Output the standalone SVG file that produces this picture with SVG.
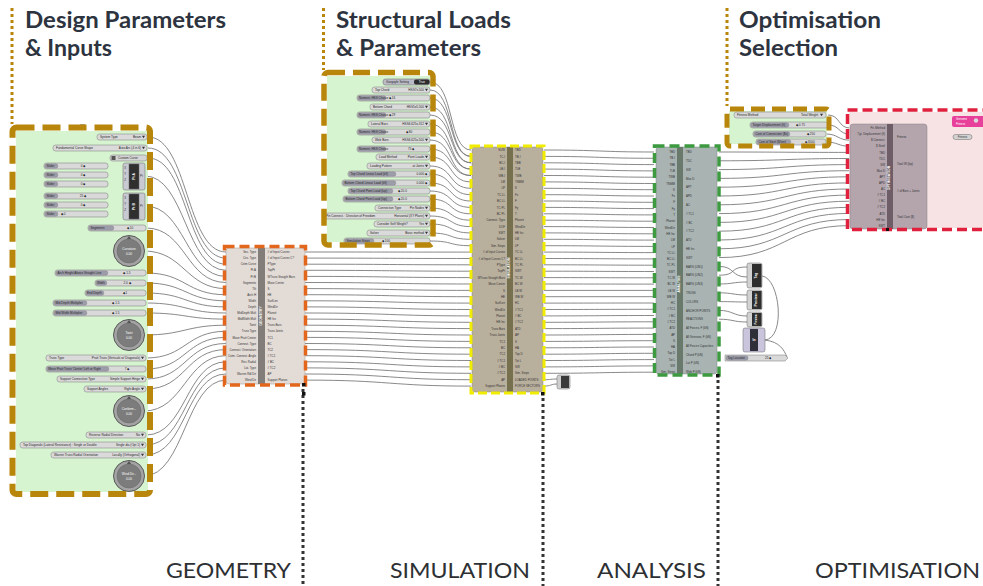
<svg xmlns="http://www.w3.org/2000/svg" width="983" height="586" viewBox="0 0 983 586">
<defs>
<style>
.h{font-family:Lato,"Open Sans",sans-serif;font-weight:700;font-size:22px;fill:#2d3440}
.f{font-family:Lato,"Open Sans",sans-serif;font-size:21px;fill:#2d3033}
.t{font-family:"Liberation Sans",Arial,sans-serif;font-size:3.1px;fill:#262626}
.c{font-family:"Liberation Sans",Arial,sans-serif;font-size:2.9px;fill:#333}
.e{text-anchor:end}
.m{text-anchor:middle}
.w{fill:#fff}
.nm{font-family:"Liberation Sans",Arial,sans-serif;font-size:3.4px;font-weight:700;fill:#fff;text-anchor:middle}
.gd{stroke:#b8860b;stroke-width:3;stroke-dasharray:3 3;fill:none}
.kd{stroke:#333;stroke-width:3;stroke-dasharray:3 3;fill:none}
.wires path{fill:none;stroke:#7c7c7c;stroke-width:0.9}
.dd rect{fill:#dadada;stroke:#7a7a7a;stroke-width:0.5}
.dd path{fill:#333}
.sl rect{fill:#d9d9d9;stroke:#777;stroke-width:0.5}
.sl rect.lab{fill:#9d9daa;stroke:#6d6d78;stroke-width:0.3}
.kb{fill:#a3a3a3;stroke:#595959;stroke-width:1}
.ki{fill:#7c7c7c;stroke:#666;stroke-width:0.5}
.kp{fill:#555}
.pt rect{stroke:#666;stroke-width:0.5}
</style>
</defs>
<rect width="983" height="586" fill="#fff"/>

<!-- section headings -->
<g id="headings">
<text class="h" x="25" y="28" textLength="201" lengthAdjust="spacingAndGlyphs">Design Parameters</text>
<text class="h" x="25" y="56" textLength="87" lengthAdjust="spacingAndGlyphs">&amp; Inputs</text>
<text class="h" x="336" y="28" textLength="175" lengthAdjust="spacingAndGlyphs">Structural Loads</text>
<text class="h" x="336" y="56" textLength="145" lengthAdjust="spacingAndGlyphs">&amp; Parameters</text>
<text class="h" x="739" y="28" textLength="142" lengthAdjust="spacingAndGlyphs">Optimisation</text>
<text class="h" x="739" y="56" textLength="99" lengthAdjust="spacingAndGlyphs">Selection</text>
<text class="f" x="166" y="578" textLength="125" lengthAdjust="spacingAndGlyphs">GEOMETRY</text>
<text class="f" x="390" y="578" textLength="140" lengthAdjust="spacingAndGlyphs">SIMULATION</text>
<text class="f" x="597" y="578" textLength="109" lengthAdjust="spacingAndGlyphs">ANALYSIS</text>
<text class="f" x="815" y="578" textLength="165" lengthAdjust="spacingAndGlyphs">OPTIMISATION</text>
</g>

<!-- dotted section dividers -->
<g id="dividers">
<path class="gd" d="M12 8V124M323.5 8V70M727 8V106"/>
<path class="kd" d="M303 389V586M543 398V586M718 380V586"/>
</g>

<!-- connectors -->
<g id="connectors" class="wires">
<path d="M148 137C188 137 186 252 226 252"/>
<path d="M148 148C188 148 186 258.1 226 258.1"/>
<path d="M148 158C188 158 186 264.2 226 264.2"/>
<path d="M145 176C185 176 186 270.3 226 270.3"/>
<path d="M145 206C185 206 186 276.4 226 276.4"/>
<path d="M146 228C186 228 186 282.5 226 282.5"/>
<path d="M144 251C184 251 186 288.6 226 288.6"/>
<path d="M146 273C186 273 186 294.7 226 294.7"/>
<path d="M146 283C186 283 186 300.8 226 300.8"/>
<path d="M146 293C186 293 186 306.9 226 306.9"/>
<path d="M146 303C186 303 186 313 226 313"/>
<path d="M146 313C186 313 186 319.1 226 319.1"/>
<path d="M144 335C184 335 186 325.2 226 325.2"/>
<path d="M146 358C186 358 186 331.3 226 331.3"/>
<path d="M146 369C186 369 186 337.4 226 337.4"/>
<path d="M146 379C186 379 186 343.5 226 343.5"/>
<path d="M146 389C186 389 186 349.6 226 349.6"/>
<path d="M144 411C184 411 186 355.7 226 355.7"/>
<path d="M146 435C186 435 186 361.8 226 361.8"/>
<path d="M146 445C186 445 186 367.9 226 367.9"/>
<path d="M146 455C186 455 186 374 226 374"/>
<path d="M144 476C184 476 186 380.1 226 380.1"/>
<path d="M108 166C116 166 116 168 124 168M108 175C116 175 116 174 124 174M108 184C116 184 116 180 124 180"/>
<path d="M108 196C116 196 116 198 124 198M108 205C116 205 116 204 124 204M108 214C116 214 116 210 124 210"/>
<path d="M305 252C390 252 390 252.1 471 252.1"/>
<path d="M305 258.1C390 258.1 390 258.5 471 258.5"/>
<path d="M305 264.2C390 264.2 390 264.8 471 264.8"/>
<path d="M305 270.3C390 270.3 390 271.2 471 271.2"/>
<path d="M305 276.4C390 276.4 390 277.6 471 277.6"/>
<path d="M305 282.5C390 282.5 390 284 471 284"/>
<path d="M305 288.6C390 288.6 390 290.4 471 290.4"/>
<path d="M305 294.7C390 294.7 390 296.7 471 296.7"/>
<path d="M305 300.8C390 300.8 390 303.1 471 303.1"/>
<path d="M305 306.9C390 306.9 390 309.5 471 309.5"/>
<path d="M305 313C390 313 390 315.9 471 315.9"/>
<path d="M305 319.1C390 319.1 390 322.3 471 322.3"/>
<path d="M305 325.2C390 325.2 390 328.6 471 328.6"/>
<path d="M305 331.3C390 331.3 390 335 471 335"/>
<path d="M305 337.4C390 337.4 390 341.4 471 341.4"/>
<path d="M305 343.5C390 343.5 390 347.8 471 347.8"/>
<path d="M305 349.6C390 349.6 390 354.2 471 354.2"/>
<path d="M305 355.7C390 355.7 390 360.5 471 360.5"/>
<path d="M305 361.8C390 361.8 390 366.9 471 366.9"/>
<path d="M305 367.9C390 367.9 390 373.3 471 373.3"/>
<path d="M305 374C390 374 390 379.7 471 379.7"/>
<path d="M305 380.1C390 380.1 390 386.1 471 386.1"/>
<path d="M430 82C454 82 448 150 471 150"/>
<path d="M430 90C454 90 448 156.4 471 156.4"/>
<path d="M430 98C454 98 448 156.4 471 156.4"/>
<path d="M430 107C454 107 448 162.8 471 162.8"/>
<path d="M430 115C454 115 448 162.8 471 162.8"/>
<path d="M430 124C454 124 448 169.1 471 169.1"/>
<path d="M430 132C454 132 448 169.1 471 169.1"/>
<path d="M430 140C454 140 448 175.5 471 175.5"/>
<path d="M430 149C454 149 448 175.5 471 175.5"/>
<path d="M430 157C454 157 448 181.9 471 181.9"/>
<path d="M430 166C454 166 448 188.3 471 188.3"/>
<path d="M430 174C454 174 448 194.7 471 194.7"/>
<path d="M430 183C454 183 448 201 471 201"/>
<path d="M430 191C454 191 448 207.4 471 207.4"/>
<path d="M430 199C454 199 448 213.8 471 213.8"/>
<path d="M430 208C454 208 448 220.2 471 220.2"/>
<path d="M430 216C454 216 448 226.6 471 226.6"/>
<path d="M430 224C454 224 448 232.9 471 232.9"/>
<path d="M430 233C454 233 448 239.3 471 239.3"/>
<path d="M430 241C454 241 448 245.7 471 245.7"/>
<path d="M544 150C600 150 600 152 654 152"/>
<path d="M544 156.4C600 156.4 600 158.3 654 158.3"/>
<path d="M544 162.8C600 162.8 600 164.6 654 164.6"/>
<path d="M544 169.1C600 169.1 600 170.9 654 170.9"/>
<path d="M544 175.5C600 175.5 600 177.2 654 177.2"/>
<path d="M544 181.9C600 181.9 600 183.5 654 183.5"/>
<path d="M544 188.3C600 188.3 600 189.7 654 189.7"/>
<path d="M544 194.7C600 194.7 600 196 654 196"/>
<path d="M544 201C600 201 600 202.3 654 202.3"/>
<path d="M544 207.4C600 207.4 600 208.6 654 208.6"/>
<path d="M544 213.8C600 213.8 600 214.9 654 214.9"/>
<path d="M544 220.2C600 220.2 600 221.2 654 221.2"/>
<path d="M544 226.6C600 226.6 600 227.5 654 227.5"/>
<path d="M544 232.9C600 232.9 600 233.8 654 233.8"/>
<path d="M544 239.3C600 239.3 600 240.1 654 240.1"/>
<path d="M544 245.7C600 245.7 600 246.4 654 246.4"/>
<path d="M544 252.1C600 252.1 600 252.6 654 252.6"/>
<path d="M544 258.5C600 258.5 600 258.9 654 258.9"/>
<path d="M544 264.8C600 264.8 600 265.2 654 265.2"/>
<path d="M544 271.2C600 271.2 600 271.5 654 271.5"/>
<path d="M544 277.6C600 277.6 600 277.8 654 277.8"/>
<path d="M544 284C600 284 600 284.1 654 284.1"/>
<path d="M544 290.4H654"/>
<path d="M544 296.7H654"/>
<path d="M544 303.1C600 303.1 600 303 654 303"/>
<path d="M544 309.5C600 309.5 600 309.3 654 309.3"/>
<path d="M544 315.9C600 315.9 600 315.5 654 315.5"/>
<path d="M544 322.3C600 322.3 600 321.8 654 321.8"/>
<path d="M544 328.6C600 328.6 600 328.1 654 328.1"/>
<path d="M544 335C600 335 600 334.4 654 334.4"/>
<path d="M544 341.4C600 341.4 600 340.7 654 340.7"/>
<path d="M544 347.8C600 347.8 600 347 654 347"/>
<path d="M544 354.2C600 354.2 600 353.3 654 353.3"/>
<path d="M544 360.5C600 360.5 600 359.6 654 359.6"/>
<path d="M544 366.9C600 366.9 600 365.9 654 365.9"/>
<path d="M544 373.3C600 373.3 600 372.2 654 372.2"/>
<path d="M544 379.7C551 379.7 551 379 557 379M544 386.1C551 386.1 551 384 557 384"/>
<path d="M719 152C785 152 785 152.4 850 152.4"/>
<path d="M719 160.8C785 160.8 785 158.5 850 158.5"/>
<path d="M719 169.6C785 169.6 785 164.6 850 164.6"/>
<path d="M719 178.4C785 178.4 785 170.7 850 170.7"/>
<path d="M719 187.2C785 187.2 785 176.8 850 176.8"/>
<path d="M719 196C785 196 785 182.9 850 182.9"/>
<path d="M719 204.8C785 204.8 785 189 850 189"/>
<path d="M719 213.6C785 213.6 785 195.1 850 195.1"/>
<path d="M719 222.4C785 222.4 785 201.2 850 201.2"/>
<path d="M719 231.2C785 231.2 785 207.3 850 207.3"/>
<path d="M719 240C785 240 785 213.4 850 213.4"/>
<path d="M719 248.8C785 248.8 785 219.5 850 219.5"/>
<path d="M719 257.6C785 257.6 785 225.6 850 225.6"/>
<path d="M828 115C840 115 838 128 850 128"/>
<path d="M828 125C840 125 838 134.1 850 134.1"/>
<path d="M826 134C838 134 838 140.2 850 140.2"/>
<path d="M826 142C838 142 838 146.3 850 146.3"/>
<path d="M927 137H953"/>
<path d="M954 124.5C950 128 958 131 961 134.5"/>
<path d="M719 266.4C735 266.4 731 277 747 277"/>
<path d="M719 275.2C738 275.2 728 267 747 267"/>
<path d="M719 284C733 284 733 282 747 282"/>
<path d="M719 292.8C733 292.8 733 295 747 295"/>
<path d="M719 301.6C733 301.6 733 302 747 302"/>
<path d="M719 310.4C733 310.4 733 316 747 316"/>
<path d="M719 319.2C733 319.2 733 322 747 322"/>
<path d="M762 276C780 278 786 338 765 340"/>
<path d="M765 340C780 342 784 350 787 357"/>
</g>

<!-- design parameters & inputs panel -->
<g id="design-parameters">
<rect x="16" y="131" width="132" height="361" fill="#d6f4cf"/>
<rect x="80" y="124" width="5" height="6" fill="#a8a8a8"/>
<g class="dd"><rect x="97" y="134" width="50" height="6" rx="2.5"/><text class="t" x="100" y="138.1">System Type</text><text class="t e" x="141" y="138.1">Beam</text><path d="M142 135.8h3l-1.5 2.4z"/></g>
<g class="dd"><rect x="53" y="145" width="94" height="6" rx="2.5"/><text class="t" x="56" y="149.1">Fundamental Curve Shape</text><text class="t e" x="141" y="149.1">Auto Arc (4 in 6)</text><path d="M142 146.8h3l-1.5 2.4z"/></g>
<g><rect x="110" y="155" width="37" height="6" rx="2.5" fill="#d5d5d5" stroke="#777" stroke-width="0.5"/><rect x="111.5" y="156" width="4" height="4" fill="#555"/><text class="t" x="118" y="159.1">Custom Curve</text></g>
<g class="sl"><rect x="44" y="163" width="64" height="6" rx="2.5"/><rect class="lab" x="44.8" y="163.7" width="13" height="4.6" rx="2"/><text class="t" x="46.5" y="167.1">Slider</text><text class="t m" x="83" y="167.1">0 ◆</text></g>
<g class="sl"><rect x="44" y="172" width="64" height="6" rx="2.5"/><rect class="lab" x="44.8" y="172.7" width="13" height="4.6" rx="2"/><text class="t" x="46.5" y="176.1">Slider</text><text class="t m" x="83" y="176.1">0 ◆</text></g>
<g class="sl"><rect x="44" y="181" width="64" height="6" rx="2.5"/><rect class="lab" x="44.8" y="181.7" width="13" height="4.6" rx="2"/><text class="t" x="46.5" y="185.1">Slider</text><text class="t m" x="83" y="185.1">0 ◆</text></g>
<g class="pt"><rect x="123" y="163" width="22" height="27" rx="2" fill="#c9c9d2"/><rect x="129" y="164" width="10" height="25" fill="#2f2f2f"/><text class="c" x="124.3" y="169">X</text><text class="c" x="124.3" y="175">Y</text><text class="c" x="124.3" y="181">Z</text><text class="c" x="140" y="177">Pt</text><text class="nm" transform="translate(135,176.5) rotate(-90)">Pt A</text></g>
<g class="sl"><rect x="44" y="193" width="64" height="6" rx="2.5"/><rect class="lab" x="44.8" y="193.7" width="13" height="4.6" rx="2"/><text class="t" x="46.5" y="197.1">Slider</text><text class="t m" x="83" y="197.1">25 ◆</text></g>
<g class="sl"><rect x="44" y="202" width="64" height="6" rx="2.5"/><rect class="lab" x="44.8" y="202.7" width="13" height="4.6" rx="2"/><text class="t" x="46.5" y="206.1">Slider</text><text class="t m" x="83" y="206.1">0 ◆</text></g>
<g class="sl"><rect x="44" y="211" width="64" height="6" rx="2.5"/><rect class="lab" x="44.8" y="211.7" width="13" height="4.6" rx="2"/><text class="t" x="46.5" y="215.1">Slider</text><text class="t" x="61" y="215.1">◆ 0</text></g>
<g class="pt"><rect x="123" y="193" width="22" height="27" rx="2" fill="#c9c9d2"/><rect x="129" y="194" width="10" height="25" fill="#2f2f2f"/><text class="c" x="124.3" y="199">X</text><text class="c" x="124.3" y="205">Y</text><text class="c" x="124.3" y="211">Z</text><text class="c" x="140" y="207">Pt</text><text class="nm" transform="translate(135,206.5) rotate(-90)">Pt B</text></g>
<g class="sl"><rect x="88" y="225" width="58" height="6" rx="2.5"/><rect class="lab" x="88.8" y="225.7" width="25" height="4.6" rx="2"/><text class="t" x="90.5" y="229.1">Segments</text><text class="t m" x="130" y="229.1">◆ 10</text></g>
<g><circle class="kb" cx="129" cy="251" r="15.5"/><circle class="ki" cx="129" cy="251" r="12"/><path class="kp" d="M129 236l-2.2 3h4.4z"/><text class="t w m" x="129" y="250">Curvature</text><text class="t w m" x="129" y="255">0.00</text></g>
<g class="sl"><rect x="55" y="270" width="91" height="6" rx="2.5"/><rect class="lab" x="55.8" y="270.7" width="52" height="4.6" rx="2"/><text class="t" x="57.5" y="274.1">Arch Height Above Straight Line</text><text class="t m" x="127" y="274.1">◆ 1.5</text></g>
<g class="sl"><rect x="95" y="280" width="51" height="6" rx="2.5"/><rect class="lab" x="95.8" y="280.7" width="11" height="4.6" rx="2"/><text class="t" x="97" y="284.1">Width</text><text class="t m" x="127" y="284.1">2.0 ◆</text></g>
<g class="sl"><rect x="85" y="290" width="61" height="6" rx="2.5"/><rect class="lab" x="85.8" y="290.7" width="18" height="4.6" rx="2"/><text class="t" x="87" y="294.1">End Depth</text><text class="t m" x="125" y="294.1">◆ 1</text></g>
<g class="sl"><rect x="53" y="300" width="93" height="6" rx="2.5"/><rect class="lab" x="53.8" y="300.7" width="33" height="4.6" rx="2"/><text class="t" x="55.5" y="304.1">Mid Depth Multiplier</text><text class="t m" x="116" y="304.1">◆ 1.5</text></g>
<g class="sl"><rect x="53" y="310" width="93" height="6" rx="2.5"/><rect class="lab" x="53.8" y="310.7" width="33" height="4.6" rx="2"/><text class="t" x="55.5" y="314.1">Mid Width Multiplier</text><text class="t m" x="116" y="314.1">◆ 1.5</text></g>
<g><circle class="kb" cx="129" cy="335" r="15.5"/><circle class="ki" cx="129" cy="335" r="12"/><path class="kp" d="M129 320l-2.2 3h4.4z"/><text class="t w m" x="129" y="334">Twist</text><text class="t w m" x="129" y="339">0.00</text></g>
<g class="dd"><rect x="46" y="355" width="100" height="6" rx="2.5"/><text class="t" x="49" y="359.1">Truss Type</text><text class="t e" x="140" y="359.1">Pratt Truss (Verticals w/ Diagonals)</text><path d="M141 356.8h3l-1.5 2.4z"/></g>
<g class="sl"><rect x="46" y="366" width="100" height="6" rx="2.5"/><rect class="lab" x="46.8" y="366.7" width="62" height="4.6" rx="2"/><text class="t" x="48.3" y="370.1">Move Pratt Truss 'Center' Left or Right</text><text class="t m" x="127" y="370.1">7 ◆</text></g>
<g class="dd"><rect x="57" y="376" width="89" height="6" rx="2.5"/><text class="t" x="60" y="380.1">Support Connection Type</text><text class="t e" x="140" y="380.1">Simple Support Hinge</text><path d="M141 377.8h3l-1.5 2.4z"/></g>
<g class="dd"><rect x="84" y="386" width="62" height="6" rx="2.5"/><text class="t" x="87" y="390.1">Support Angles</text><text class="t e" x="140" y="390.1">Right Angle</text><path d="M141 387.8h3l-1.5 2.4z"/></g>
<g><circle class="kb" cx="129" cy="411" r="15.5"/><circle class="ki" cx="129" cy="411" r="12"/><path class="kp" d="M129 396l-2.2 3h4.4z"/><text class="t w m" x="129" y="410">Conform...</text><text class="t w m" x="129" y="415">0.00</text></g>
<g class="dd"><rect x="86" y="432" width="60" height="6" rx="2.5"/><text class="t" x="89" y="436.1">Reverse Radial Direction</text><text class="t e" x="140" y="436.1">No</text><path d="M141 433.8h3l-1.5 2.4z"/></g>
<g class="dd"><rect x="20" y="442" width="126" height="6" rx="2.5"/><text class="t" x="23" y="446.1">Top Diagonals (Lateral Resistance) : Single or Double</text><text class="t e" x="140" y="446.1">Single dia (Opt 1)</text><path d="M141 443.8h3l-1.5 2.4z"/></g>
<g class="dd"><rect x="51" y="452" width="95" height="6" rx="2.5"/><text class="t" x="54" y="456.1">Warren Truss Radial Orientation</text><text class="t e" x="140" y="456.1">Locally (Orthogonal)</text><path d="M141 453.8h3l-1.5 2.4z"/></g>
<g><circle class="kb" cx="129" cy="476" r="15.5"/><circle class="ki" cx="129" cy="476" r="12"/><path class="kp" d="M129 461l-2.2 3h4.4z"/><text class="t w m" x="129" y="475">Wind Dir...</text><text class="t w m" x="129" y="480">0.00</text></g>
<rect x="12.5" y="127.5" width="137.5" height="366.5" rx="4" fill="none" stroke="#b8860b" stroke-width="6" stroke-dasharray="18 8"/>
</g>

<!-- structural loads & parameters panel -->
<g id="structural-loads">
<rect x="327" y="76" width="103" height="166" fill="#d6f4cf"/>
<g><rect x="383" y="79" width="47" height="6" rx="2.5" fill="#bcbcc8" stroke="#666" stroke-width="0.5"/><text class="t" x="386" y="83.1">Gargoyle Setting</text><rect x="414" y="79.6" width="15.5" height="4.8" rx="2" fill="#2c2c2c"/><text class="t w m" x="421.8" y="83.1">True</text></g>
<g class="dd"><rect x="372" y="87" width="58" height="6" rx="2.5"/><text class="t" x="375" y="91.1">Top Chord</text><text class="t e" x="424" y="91.1">HSS7x.500</text><path d="M425 88.8h3l-1.5 2.4z"/></g>
<g class="sl"><rect x="357" y="95" width="73" height="6" rx="2.5"/><rect class="lab" x="357.8" y="95.7" width="28" height="4.6" rx="2"/><text class="t" x="359" y="99.1">Numeric HSS Choice</text><text class="t" x="389" y="99.1">◆ 16</text></g>
<g class="dd"><rect x="370" y="104" width="60" height="6" rx="2.5"/><text class="t" x="373" y="108.1">Bottom Chord</text><text class="t e" x="424" y="108.1">HSS5x5.500</text><path d="M425 105.8h3l-1.5 2.4z"/></g>
<g class="sl"><rect x="357" y="112" width="73" height="6" rx="2.5"/><rect class="lab" x="357.8" y="112.7" width="28" height="4.6" rx="2"/><text class="t" x="359" y="116.1">Numeric HSS Choice</text><text class="t" x="389" y="116.1">◆ 29</text></g>
<g class="dd"><rect x="368" y="121" width="62" height="6" rx="2.5"/><text class="t" x="371" y="125.1">Lateral Bars</text><text class="t e" x="424" y="125.1">HSS6.625x.312</text><path d="M425 122.8h3l-1.5 2.4z"/></g>
<g class="sl"><rect x="357" y="129" width="73" height="6" rx="2.5"/><rect class="lab" x="357.8" y="129.7" width="28" height="4.6" rx="2"/><text class="t" x="359" y="133.1">Numeric HSS Choice</text><text class="t" x="406" y="133.1">◆ 80</text></g>
<g class="dd"><rect x="372" y="137" width="58" height="6" rx="2.5"/><text class="t" x="375" y="141.1">Web Bars</text><text class="t e" x="424" y="141.1">HSS6.625x.500</text><path d="M425 138.8h3l-1.5 2.4z"/></g>
<g class="sl"><rect x="357" y="146" width="73" height="6" rx="2.5"/><rect class="lab" x="357.8" y="146.7" width="28" height="4.6" rx="2"/><text class="t" x="359" y="150.1">Numeric HSS Choice</text><text class="t" x="408" y="150.1">75 ◆</text></g>
<g class="dd"><rect x="376" y="154" width="54" height="6" rx="2.5"/><text class="t" x="379" y="158.1">Load Method</text><text class="t e" x="424" y="158.1">Point Loads</text><path d="M425 155.8h3l-1.5 2.4z"/></g>
<g class="dd"><rect x="367" y="163" width="63" height="6" rx="2.5"/><text class="t" x="370" y="167.1">Loading Pattern</text><text class="t e" x="424" y="167.1">at Joints</text><path d="M425 164.8h3l-1.5 2.4z"/></g>
<g class="sl"><rect x="348" y="171" width="82" height="6" rx="2.5"/><rect class="lab" x="348.8" y="171.7" width="47" height="4.6" rx="2"/><text class="t" x="350.5" y="175.1">Top Chord Linear Load (klf)</text><text class="t e" x="427" y="175.1">0.000 ◆</text></g>
<g class="sl"><rect x="342" y="180" width="88" height="6" rx="2.5"/><rect class="lab" x="342.8" y="180.7" width="53" height="4.6" rx="2"/><text class="t" x="344.5" y="184.1">Bottom Chord Linear Load (klf)</text><text class="t e" x="427" y="184.1">0.000 ◆</text></g>
<g class="sl"><rect x="348" y="188" width="82" height="6" rx="2.5"/><rect class="lab" x="348.8" y="188.7" width="44" height="4.6" rx="2"/><text class="t" x="350.5" y="192.1">Top Chord Point Load (kip)</text><text class="t" x="398" y="192.1">◆ 20.0</text></g>
<g class="sl"><rect x="343" y="196" width="87" height="6" rx="2.5"/><rect class="lab" x="343.8" y="196.7" width="49" height="4.6" rx="2"/><text class="t" x="345.5" y="200.1">Bottom Chord Point Load (kip)</text><text class="t" x="398" y="200.1">◆ 20.0</text></g>
<g class="dd"><rect x="375" y="205" width="55" height="6" rx="2.5"/><text class="t" x="378" y="209.1">Connection Type</text><text class="t e" x="424" y="209.1">Pin Nodes</text><path d="M425 206.8h3l-1.5 2.4z"/></g>
<g class="dd"><rect x="323" y="213" width="107" height="6" rx="2.5"/><text class="t" x="326" y="217.1">Pin Connect. : Direction of Freedom</text><text class="t e" x="424" y="217.1">Horizontal (XY Plane)</text><path d="M425 214.8h3l-1.5 2.4z"/></g>
<g class="dd"><rect x="374" y="221" width="56" height="6" rx="2.5"/><text class="t" x="377" y="225.1">Consider Self Weight?</text><text class="t e" x="424" y="225.1">Yes</text><path d="M425 222.8h3l-1.5 2.4z"/></g>
<g class="dd"><rect x="367" y="230" width="63" height="6" rx="2.5"/><text class="t" x="370" y="234.1">Solver</text><text class="t e" x="424" y="234.1">Basic method</text><path d="M425 231.8h3l-1.5 2.4z"/></g>
<g class="sl"><rect x="344" y="238" width="86" height="6" rx="2.5"/><rect class="lab" x="344.8" y="238.7" width="29" height="4.6" rx="2"/><text class="t" x="346.5" y="242.1">Simulation Steps</text><text class="t" x="382" y="242.1">◆ 100</text></g>
<rect x="324" y="72.5" width="109" height="172.5" rx="4" fill="none" stroke="#b8860b" stroke-width="5.5" stroke-dasharray="17 8"/>
</g>

<!-- geometry component -->
<g id="geometry">
<rect x="226" y="248" width="79" height="136" rx="3" fill="#e3dbd6" stroke="#a09a96" stroke-width="0.5"/>
<rect x="258" y="248" width="7" height="136" fill="#827d79"/>
<text class="nm" transform="translate(261.5,316) rotate(-90)">GEOMETRY</text>
<text class="c e"><tspan x="256" y="253.1">Sec. Type</tspan><tspan x="256" y="259.2">Circ. Type</tspan><tspan x="256" y="265.3">Cstm Curve</tspan><tspan x="256" y="271.4">Pt A</tspan><tspan x="256" y="277.5">Pt B</tspan><tspan x="256" y="283.6">Segments</tspan><tspan x="256" y="289.7">Tilt</tspan><tspan x="256" y="295.8">Arch H</tspan><tspan x="256" y="301.9">Width</tspan><tspan x="256" y="308">Depth</tspan><tspan x="256" y="314.1">MidDepth Mult</tspan><tspan x="256" y="320.2">MidWidth Mult</tspan><tspan x="256" y="326.3">Twist</tspan><tspan x="256" y="332.4">Truss Type</tspan><tspan x="256" y="338.5">Move Pratt Center</tspan><tspan x="256" y="344.6">Connect. Type</tspan><tspan x="256" y="350.7">Connect. Orientation</tspan><tspan x="256" y="356.8">Cstm. Connect. Angle</tspan><tspan x="256" y="362.9">Rev. Radial</tspan><tspan x="256" y="369">Lat. Type</tspan><tspan x="256" y="375.1">Warren Rdl Dir</tspan><tspan x="256" y="381.2">Wind Dir</tspan></text>
<text class="c"><tspan x="267.5" y="253.1"># of Input Curves</tspan><tspan x="267.5" y="259.2"># of Input Curves C?</tspan><tspan x="267.5" y="265.3">PType</tspan><tspan x="267.5" y="271.4">TopPt</tspan><tspan x="267.5" y="277.5">WTruss Straight Bars</tspan><tspan x="267.5" y="283.6">Move Center</tspan><tspan x="267.5" y="289.7">S</tspan><tspan x="267.5" y="295.8">HE</tspan><tspan x="267.5" y="301.9">SurfLen</tspan><tspan x="267.5" y="308">WindDir</tspan><tspan x="267.5" y="314.1">Planeit</tspan><tspan x="267.5" y="320.2">HE Inc</tspan><tspan x="267.5" y="326.3">Truss Bars</tspan><tspan x="267.5" y="332.4">Truss Joints</tspan><tspan x="267.5" y="338.5">TC1</tspan><tspan x="267.5" y="344.6">BC</tspan><tspan x="267.5" y="350.7">TC2</tspan><tspan x="267.5" y="356.8"># TC1</tspan><tspan x="267.5" y="362.9"># BC</tspan><tspan x="267.5" y="369"># TC2</tspan><tspan x="267.5" y="375.1">AP</tspan><tspan x="267.5" y="381.2">Support Planes</tspan></text>
<rect x="224.5" y="246.5" width="81" height="138.5" fill="none" stroke="#e2661c" stroke-width="3.5" stroke-dasharray="10 5"/>
<rect x="302" y="383" width="3.5" height="3.5" fill="#111"/>
<rect x="302" y="392" width="3.5" height="3.5" fill="#111"/>
</g>

<!-- simulation component -->
<g id="simulation">
<rect x="472" y="147" width="71" height="245" rx="3" fill="#b9af9d" stroke="#8d8475" stroke-width="0.5"/>
<rect x="507" y="147" width="6" height="245" fill="#77704f"/>
<text class="nm" transform="translate(510,268) rotate(-90)">SIMULATION</text>
<text class="c e"><tspan x="505" y="151.1">SUW</tspan><tspan x="505" y="157.5">TC-I</tspan><tspan x="505" y="163.9">BC-I</tspan><tspan x="505" y="170.2">LB-I</tspan><tspan x="505" y="176.6">WB-I</tspan><tspan x="505" y="183">LM</tspan><tspan x="505" y="189.4">LP</tspan><tspan x="505" y="195.8">TC LL</tspan><tspan x="505" y="202.1">BC LL</tspan><tspan x="505" y="208.5">TC PL</tspan><tspan x="505" y="214.9">BC PL</tspan><tspan x="505" y="221.3">Connect. Type</tspan><tspan x="505" y="227.7">DOF</tspan><tspan x="505" y="234">SWT</tspan><tspan x="505" y="240.4">Solver</tspan><tspan x="505" y="246.8">Sim. Steps</tspan><tspan x="505" y="253.2"># of Input Curves</tspan><tspan x="505" y="259.6"># of Input Curves C?</tspan><tspan x="505" y="265.9">PType</tspan><tspan x="505" y="272.3">TopPt</tspan><tspan x="505" y="278.7">WTruss Straight Bars</tspan><tspan x="505" y="285.1">Move Center</tspan><tspan x="505" y="291.5">S</tspan><tspan x="505" y="297.8">HE</tspan><tspan x="505" y="304.2">SurfLen</tspan><tspan x="505" y="310.6">WindDir</tspan><tspan x="505" y="317">Planeit</tspan><tspan x="505" y="323.4">HE Inc</tspan><tspan x="505" y="329.7">Truss Bars</tspan><tspan x="505" y="336.1">Truss Joints</tspan><tspan x="505" y="342.5">TC1</tspan><tspan x="505" y="348.9">BC</tspan><tspan x="505" y="355.3">TC2</tspan><tspan x="505" y="361.6"># TC1</tspan><tspan x="505" y="368"># BC</tspan><tspan x="505" y="374.4"># TC2</tspan><tspan x="505" y="380.8">AP</tspan><tspan x="505" y="387.2">Support Planes</tspan></text>
<text class="c"><tspan x="515" y="151.1">TBD</tspan><tspan x="515" y="157.5">TB-I</tspan><tspan x="515" y="163.9">TBB</tspan><tspan x="515" y="170.2">TLB</tspan><tspan x="515" y="176.6">TWB</tspan><tspan x="515" y="183">TNMM</tspan><tspan x="515" y="189.4">K</tspan><tspan x="515" y="195.8">Fx</tspan><tspan x="515" y="202.1">F</tspan><tspan x="515" y="208.5">Fy</tspan><tspan x="515" y="214.9">T</tspan><tspan x="515" y="221.3">Planeit</tspan><tspan x="515" y="227.7">WindDir</tspan><tspan x="515" y="234">HE Inc</tspan><tspan x="515" y="240.4">LM</tspan><tspan x="515" y="246.8">LP</tspan><tspan x="515" y="253.2">TC LL</tspan><tspan x="515" y="259.6">BC LL</tspan><tspan x="515" y="265.9">TC PL</tspan><tspan x="515" y="272.3">SWT</tspan><tspan x="515" y="278.7">TC W</tspan><tspan x="515" y="285.1">BC W</tspan><tspan x="515" y="291.5">LB W</tspan><tspan x="515" y="297.8">WB W</tspan><tspan x="515" y="304.2">HC</tspan><tspan x="515" y="310.6"># TC1</tspan><tspan x="515" y="317"># BC</tspan><tspan x="515" y="323.4"># TC2</tspan><tspan x="515" y="329.7">ATD</tspan><tspan x="515" y="336.1">AP</tspan><tspan x="515" y="342.5">S</tspan><tspan x="515" y="348.9">HA</tspan><tspan x="515" y="355.3">Top D</tspan><tspan x="515" y="361.6">Tot L</tspan><tspan x="515" y="368">SW</tspan><tspan x="515" y="374.4">Sim. Steps</tspan><tspan x="515" y="380.8">LOADED POINTS</tspan><tspan x="515" y="387.2">FORCE VECTORS</tspan></text>
<rect x="471" y="146" width="73" height="247" fill="none" stroke="#f2ec00" stroke-width="3" stroke-dasharray="9 4"/>
<rect x="541" y="392" width="3.5" height="3.5" fill="#111"/>
</g>

<!-- point / vector preview after simulation -->
<g id="sim-preview">
<rect x="557" y="375" width="13" height="14" rx="2" fill="#cfcfcf" stroke="#666" stroke-width="0.5"/>
<rect x="561" y="376" width="8" height="12" fill="#3a3a3a"/>
</g>

<!-- analysis component -->
<g id="analysis">
<rect x="656" y="147" width="61" height="227" rx="3" fill="#a9b3b2" stroke="#808a89" stroke-width="0.5"/>
<rect x="677" y="147" width="6" height="227" fill="#697a6c"/>
<text class="nm" transform="translate(680,284) rotate(-90)">ANALYSIS</text>
<text class="c e"><tspan x="675" y="153.1">TBD</tspan><tspan x="675" y="159.4">TB-I</tspan><tspan x="675" y="165.7">TBB</tspan><tspan x="675" y="172">TLB</tspan><tspan x="675" y="178.3">TWB</tspan><tspan x="675" y="184.6">TNMM</tspan><tspan x="675" y="190.8">K</tspan><tspan x="675" y="197.1">Fx</tspan><tspan x="675" y="203.4">F</tspan><tspan x="675" y="209.7">Fy</tspan><tspan x="675" y="216">T</tspan><tspan x="675" y="222.3">Planeit</tspan><tspan x="675" y="228.6">WindDir</tspan><tspan x="675" y="234.9">HE Inc</tspan><tspan x="675" y="241.2">LM</tspan><tspan x="675" y="247.5">LP</tspan><tspan x="675" y="253.7">TC LL</tspan><tspan x="675" y="260">BC LL</tspan><tspan x="675" y="266.3">TC PL</tspan><tspan x="675" y="272.6">SWT</tspan><tspan x="675" y="278.9">TC W</tspan><tspan x="675" y="285.2">BC W</tspan><tspan x="675" y="291.5">LB W</tspan><tspan x="675" y="297.8">WB W</tspan><tspan x="675" y="304.1">HC</tspan><tspan x="675" y="310.4"># TC1</tspan><tspan x="675" y="316.6"># BC</tspan><tspan x="675" y="322.9"># TC2</tspan><tspan x="675" y="329.2">ATD</tspan><tspan x="675" y="335.5">AP</tspan><tspan x="675" y="341.8">S</tspan><tspan x="675" y="348.1">HA</tspan><tspan x="675" y="354.4">Top D</tspan><tspan x="675" y="360.7">Tot L</tspan><tspan x="675" y="367">SW</tspan><tspan x="675" y="373.3">Sim. Steps</tspan></text>
<text class="c"><tspan x="686" y="153.1">TBD</tspan><tspan x="686" y="161.9">TDC</tspan><tspan x="686" y="170.7">SW</tspan><tspan x="686" y="179.5">Max D</tspan><tspan x="686" y="188.3">APT</tspan><tspan x="686" y="197.1">APD</tspan><tspan x="686" y="205.9">AC</tspan><tspan x="686" y="214.7"># TC1</tspan><tspan x="686" y="223.5"># BC</tspan><tspan x="686" y="232.3"># TC2</tspan><tspan x="686" y="241.1">ATD</tspan><tspan x="686" y="249.9">HE Inc</tspan><tspan x="686" y="258.7">SWT</tspan><tspan x="686" y="267.5">BARS (LIN1)</tspan><tspan x="686" y="276.3">BARS (LIN2)</tspan><tspan x="686" y="285.1">BARS (LIN3)</tspan><tspan x="686" y="293.9">TRUSS</tspan><tspan x="686" y="302.7">COLORS</tspan><tspan x="686" y="311.5">ANCHOR POINTS</tspan><tspan x="686" y="320.3">REACTIONS</tspan><tspan x="686" y="329.1">All Forces, F (kN)</tspan><tspan x="686" y="337.9">All Stresses, F (kN)</tspan><tspan x="686" y="346.7">All Forces Capacities</tspan><tspan x="686" y="355.5">Chord P (kN)</tspan><tspan x="686" y="364.3">Lat P (kN)</tspan><tspan x="686" y="373.1">Web P (kN)</tspan></text>
<rect x="654.5" y="146" width="64.5" height="229" fill="none" stroke="#3d9a40" stroke-width="3.5" stroke-dasharray="10 5"/>
<rect x="716" y="374" width="3.5" height="3.5" fill="#111"/>
</g>

<!-- display helpers beside analysis -->
<g id="tag-display">
<rect x="747" y="263" width="15" height="25" rx="2" fill="#d2d2d2" stroke="#666" stroke-width="0.5"/>
<rect x="752" y="264" width="9.5" height="23" fill="#2e2e2e"/>
<text class="nm" transform="translate(757,275.5) rotate(-90)">Tag</text>
</g>
<g id="preview-truss">
<rect x="747" y="290" width="15" height="20" rx="2" fill="#d2d2d2" stroke="#666" stroke-width="0.5"/>
<rect x="752" y="291" width="9.5" height="18" fill="#2e2e2e"/>
<text class="nm" transform="translate(757,300) rotate(-90)">Preview</text>
</g>
<g id="preview-reactions">
<rect x="747" y="312" width="15" height="15" rx="2" fill="#d2d2d2" stroke="#666" stroke-width="0.5"/>
<rect x="752" y="313" width="9.5" height="13" fill="#2e2e2e"/>
<text class="nm" transform="translate(757,319.5) rotate(-90)" style="font-size:2.6px">Preview</text>
</g>
<g id="tag-interp">
<rect x="743" y="328" width="22" height="24" rx="2" fill="#cac5dc" stroke="#666" stroke-width="0.5"/>
<rect x="750" y="329" width="8" height="22" fill="#2f2f3a"/>
<text class="nm" x="754" y="341">In</text>
</g>
<g id="tag-location" class="sl">
<path d="M725 355h60l3 3l-3 3h-60z" fill="#d9d9d9" stroke="#777" stroke-width="0.5"/>
<rect class="lab" x="726" y="355.7" width="22" height="4.6" rx="2"/>
<text class="t" x="727.5" y="359.1">Tag Location</text>
<text class="t" x="765" y="359.1">25 ◆</text>
</g>

<!-- optimisation selection panel -->
<g id="optimisation-selection">
<rect x="729" y="111" width="98" height="33" fill="#d6f4cf"/>
<g class="dd"><rect x="734" y="112" width="92" height="6" rx="2.5"/><text class="t" x="737" y="116.1">Fitness Method</text><text class="t e" x="818" y="116.1">Total Weight</text><path d="M820 113.8h3l-1.5 2.4z"/></g>
<g class="sl"><rect x="750" y="122" width="78" height="6" rx="2.5"/><rect class="lab" x="750.8" y="122.7" width="38" height="4.6" rx="2"/><text class="t" x="752.5" y="126.1">Target Displacement (ft)</text><text class="t" x="796" y="126.1">◆ 0.75</text></g>
<g class="sl"><rect x="753" y="131" width="73" height="6" rx="2.5"/><rect class="lab" x="753.8" y="131.7" width="36" height="4.6" rx="2"/><text class="t" x="755.5" y="135.1">Cost of Connection ($s)</text><text class="t" x="807" y="135.1">◆ 250</text></g>
<g class="sl"><rect x="756" y="139" width="70" height="6" rx="2.5"/><rect class="lab" x="756.8" y="139.7" width="34" height="4.6" rx="2"/><text class="t" x="758.5" y="143.1">Cost of Steel ($/ton)</text><text class="t" x="805" y="143.1">◆ 3000</text></g>
<rect x="727" y="109" width="102" height="37" rx="3" fill="none" stroke="#b8860b" stroke-width="5" stroke-dasharray="14 7"/>
</g>

<!-- optimisation component -->
<g id="optimisation">
<rect x="849" y="112" width="134" height="116" fill="#f8e3e4"/>
<rect x="850" y="124" width="77" height="105" rx="3" fill="#b4a5ad" stroke="#8a7d84" stroke-width="0.5"/>
<rect x="887" y="124" width="6" height="105" fill="#6e5d66"/>
<text class="nm" transform="translate(890,178) rotate(-90)">OPTIMISATION</text>
<text class="c e"><tspan x="885" y="129.1">Fit. Method</tspan><tspan x="885" y="135.2">Tgt. Displacement (ft)</tspan><tspan x="885" y="141.3">$ Connect.</tspan><tspan x="885" y="147.4">$ Steel</tspan><tspan x="885" y="153.5">TBD</tspan><tspan x="885" y="159.6">TDC</tspan><tspan x="885" y="165.7">SW</tspan><tspan x="885" y="171.8">Max D</tspan><tspan x="885" y="177.9">APT</tspan><tspan x="885" y="184">APD</tspan><tspan x="885" y="190.1">AC</tspan><tspan x="885" y="196.2"># TC1</tspan><tspan x="885" y="202.3"># BC</tspan><tspan x="885" y="208.4"># TC2</tspan><tspan x="885" y="214.5">ATD</tspan><tspan x="885" y="220.6">HE Inc</tspan><tspan x="885" y="226.7">SWT</tspan></text>
<text class="c"><tspan x="897" y="138.1">Fitness</tspan><tspan x="897" y="165.1">Total W (kip)</tspan><tspan x="897" y="192.1"># of Bars + Joints</tspan><tspan x="897" y="218.1">Total Cost ($)</tspan></text>
<rect x="847.5" y="110" width="150" height="119.5" fill="none" stroke="#e0203c" stroke-width="3.5" stroke-dasharray="10 5"/>
<rect x="886" y="228" width="3" height="3" fill="#111"/>
</g>

<!-- fitness parameter and solver -->
<g id="fitness-param">
<rect x="953" y="134.5" width="19" height="5" rx="2.5" fill="#d2d2d2" stroke="#666" stroke-width="0.5"/>
<text class="c m" x="962.5" y="138">Fitness</text>
</g>
<g id="solver">
<rect x="952" y="116" width="34" height="11" rx="2" fill="#e8409a"/>
<text class="c w"><tspan x="956" y="120">Genome</tspan><tspan x="956" y="125.3">Fitness</tspan></text>
<circle cx="976" cy="120.5" r="2.2" fill="#d9d9d9"/>
</g>
</svg>
